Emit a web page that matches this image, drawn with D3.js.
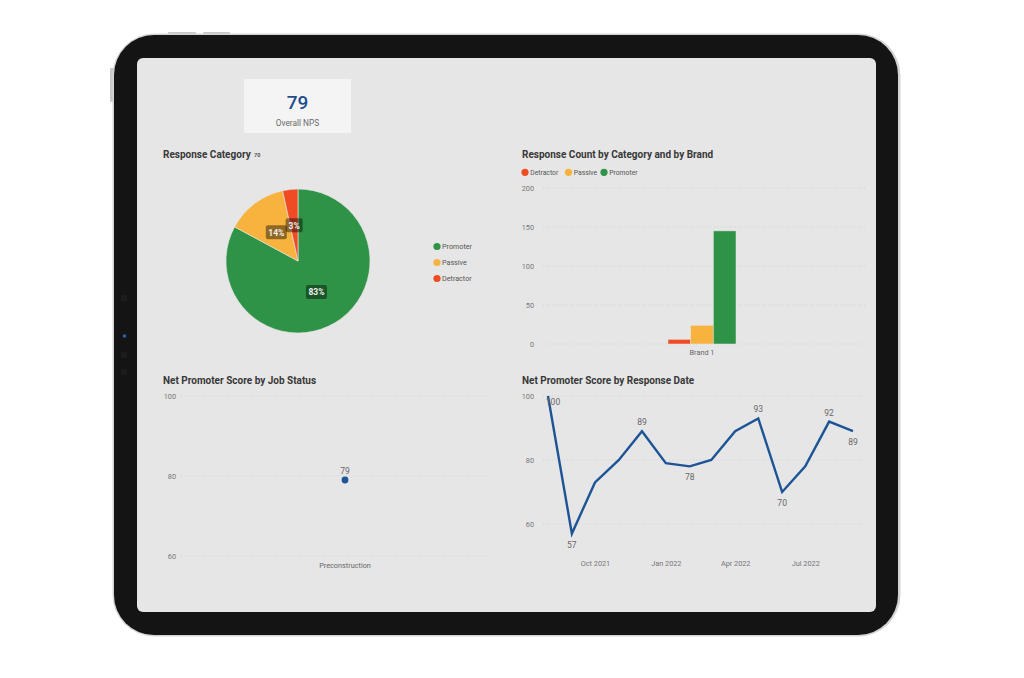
<!DOCTYPE html>
<html>
<head>
<meta charset="utf-8">
<script src="https://cdn.jsdelivr.net/npm/d3@7"></script>
<style>
  html, body { margin: 0; padding: 0; background: #ffffff; }
  svg { display: block; }
  text { font-family: Roboto, "Open Sans", sans-serif; }
</style>
</head>
<body>
<svg id="chart" width="1024" height="678"></svg>
<script>
// ---------------- DATA ----------------
const kpiValue = 79;
const kpiLabel = "Overall NPS";

const pieCategories = ["Promoter", "Passive", "Detractor"];
const barCategories = ["Detractor", "Passive", "Promoter"];
const brands = ["Brand 1"];
const responseCounts = [6, 24, 145];           // Detractor, Passive, Promoter for Brand 1
const barTicks = [0, 50, 100, 150, 200];

const jobStatuses = ["Preconstruction"];
const jobNps = [79];
const jobTicks = [60, 80, 100];

const npsMonths = ["2021-08", "2021-09", "2021-10", "2021-11", "2021-12", "2022-01", "2022-02",
                   "2022-03", "2022-04", "2022-05", "2022-06", "2022-07", "2022-08", "2022-09"];
const npsValues = [100, 57, 73, 80, 89, 79, 78, 80, 89, 93, 70, 78, 92, 89];
const npsLabeledMonths = ["2021-08", "2021-09", "2021-12", "2022-02", "2022-05", "2022-06", "2022-08", "2022-09"];
const npsTicks = ["2021-10", "2022-01", "2022-04", "2022-07"];
const npsYTicks = [60, 80, 100];

const colors = { Promoter: "#2e9346", Passive: "#f8b33e", Detractor: "#ef4c24" };

// ---------------- FRAME ----------------
const svg = d3.select("#chart");

// side buttons
svg.append("rect").attr("x", 168).attr("y", 32).attr("width", 28).attr("height", 3).attr("rx", 1).attr("fill", "#c9c9c9");
svg.append("rect").attr("x", 203).attr("y", 32).attr("width", 27).attr("height", 3).attr("rx", 1).attr("fill", "#c9c9c9");
svg.append("rect").attr("x", 110).attr("y", 68).attr("width", 4).attr("height", 34).attr("rx", 1).attr("fill", "#c9c9c9");

// body
svg.append("rect").attr("x", 112.5).attr("y", 33.5).attr("width", 788).attr("height", 603).attr("rx", 42)
  .attr("fill", "#d4d4d4");
svg.append("rect").attr("x", 114).attr("y", 35).attr("width", 784).attr("height", 600).attr("rx", 40)
  .attr("fill", "#141414");
// sensors
[298, 355, 372].forEach(y => svg.append("rect").attr("x", 121).attr("y", y - 3).attr("width", 6).attr("height", 6).attr("rx", 1).attr("fill", "#1c1c1c"));
svg.append("circle").attr("cx", 124.5).attr("cy", 336).attr("r", 1.8).attr("fill", "#2a5fb5");

// screen
svg.append("rect").attr("x", 137).attr("y", 58).attr("width", 739).attr("height", 554).attr("rx", 6)
  .attr("fill", "#e6e6e6");

const titleStyle = sel => sel.attr("font-size", 10).attr("font-weight", "bold").attr("fill", "#383838");
const tickStyle = sel => sel.attr("font-size", 7.3).attr("fill", "#777");
const gridStyle = sel => sel.attr("stroke", "#d2d2d2").attr("stroke-width", 1).attr("stroke-dasharray", "1 2");

// ---------------- KPI CARD ----------------
svg.append("rect").attr("x", 244).attr("y", 79).attr("width", 107).attr("height", 54).attr("fill", "#f4f4f4");
svg.append("text").attr("x", 297.5).attr("y", 108.5).attr("text-anchor", "middle")
  .attr("font-size", 19).attr("font-weight", 500).attr("fill", "#1f4e8c").text(kpiValue);
svg.append("text").attr("x", 297.5).attr("y", 126).attr("text-anchor", "middle")
  .attr("font-size", 8.3).attr("fill", "#6a6a6a").text(kpiLabel);

// ---------------- PIE ----------------
svg.append("text").attr("x", 163).attr("y", 157.5).call(titleStyle).text("Response Category");
svg.append("text").attr("x", 254).attr("y", 157).attr("font-size", 5.5).attr("font-weight", "bold").attr("fill", "#555").text("70");

const pieData = pieCategories.map(c => ({ cat: c, value: responseCounts[barCategories.indexOf(c)] }));
const total = d3.sum(pieData, d => d.value);
const pie = d3.pie().sort(null).value(d => d.value);
const R = 72;
const arc = d3.arc().innerRadius(0).outerRadius(R);
const labelArc = d3.arc().innerRadius(0).outerRadius(R);
const pg = svg.append("g").attr("transform", "translate(298,261)");
const arcs = pie(pieData);
pg.selectAll("path").data(arcs).join("path")
  .attr("d", arc).attr("fill", d => colors[d.data.cat]).attr("stroke", "#e6e6e6").attr("stroke-width", 0.6);
const pl = pg.selectAll("g.lbl").data(arcs).join("g").attr("class", "lbl")
  .attr("transform", d => `translate(${labelArc.centroid(d)})`);
pl.append("rect").attr("x", d => d.data.value / total < 0.05 ? -8.5 : -10.5).attr("y", -7)
  .attr("width", d => d.data.value / total < 0.05 ? 17 : 21).attr("height", 14).attr("rx", 2)
  .attr("fill", "rgba(0,0,0,0.42)");
pl.append("text").attr("text-anchor", "middle").attr("y", 3.3).attr("font-size", 8.5).attr("font-weight", "bold")
  .attr("fill", "#f0f0f0").text(d => Math.round(d.data.value / total * 100) + "%");

const pieLeg = svg.append("g");
pieCategories.forEach((c, i) => {
  const y = 246.5 + i * 16;
  pieLeg.append("circle").attr("cx", 437).attr("cy", y).attr("r", 3.6).attr("fill", colors[c]);
  pieLeg.append("text").attr("x", 442).attr("y", y + 2.6).attr("font-size", 7.2).attr("fill", "#555").text(c);
});

// ---------------- BAR CHART ----------------
svg.append("text").attr("x", 522).attr("y", 157.5).call(titleStyle).text("Response Count by Category and by Brand");
const barLegX = [525, 568.5, 604];
barCategories.forEach((c, i) => {
  svg.append("circle").attr("cx", barLegX[i]).attr("cy", 172.3).attr("r", 3.6).attr("fill", colors[c]);
  svg.append("text").attr("x", barLegX[i] + 5.2).attr("y", 174.8).attr("font-size", 6.8).attr("fill", "#555").text(c);
});
const by = d3.scaleLinear().domain([0, 200]).range([344, 188]);
const bx0 = d3.scaleBand().domain(brands).range([543, 861]).paddingInner(0).paddingOuter(1.838);
const bx1 = d3.scaleBand().domain(barCategories).range([0, bx0.bandwidth()]);
const bg = svg.append("g");
bg.selectAll("line.grid").data(barTicks).join("line").attr("class", "grid")
  .attr("x1", 543).attr("x2", 866).attr("y1", d => by(d)).attr("y2", d => by(d)).call(gridStyle);
bg.selectAll("text.yt").data(barTicks).join("text").attr("class", "yt")
  .attr("x", 534).attr("y", d => by(d) + 2.7).attr("text-anchor", "end").call(tickStyle).text(d => d);
brands.forEach(b => {
  barCategories.forEach((c, i) => {
    bg.append("rect").attr("x", bx0(b) + bx1(c)).attr("width", bx1.bandwidth())
      .attr("y", by(responseCounts[i])).attr("height", by(0) - by(responseCounts[i]))
      .attr("fill", colors[c]).attr("stroke", "#e6e6e6").attr("stroke-width", 0.5);
  });
  bg.append("text").attr("x", bx0(b) + bx0.bandwidth() / 2).attr("y", 354.5).attr("text-anchor", "middle")
    .call(tickStyle).attr("fill", "#666").text(b);
});

// ---------------- JOB STATUS ----------------
svg.append("text").attr("x", 163).attr("y", 384).call(titleStyle).text("Net Promoter Score by Job Status");
const jy = d3.scaleLinear().domain([60, 100]).range([556, 396]);
const jx = d3.scalePoint().domain(jobStatuses).range([183, 507]).padding(0.5);
const jg = svg.append("g");
jg.selectAll("line.grid").data(jobTicks).join("line").attr("class", "grid")
  .attr("x1", 181).attr("x2", 492).attr("y1", d => jy(d)).attr("y2", d => jy(d)).call(gridStyle);
jg.selectAll("text.yt").data(jobTicks).join("text").attr("class", "yt")
  .attr("x", 176).attr("y", d => jy(d) + 2.7).attr("text-anchor", "end").call(tickStyle).text(d => d);
jobStatuses.forEach((s, i) => {
  jg.append("circle").attr("cx", jx(s)).attr("cy", jy(jobNps[i])).attr("r", 3.4).attr("fill", "#1c5496");
  jg.append("text").attr("x", jx(s)).attr("y", jy(jobNps[i]) - 6).attr("text-anchor", "middle")
    .attr("font-size", 8.5).attr("fill", "#666").text(jobNps[i]);
  jg.append("text").attr("x", jx(s)).attr("y", 567.5).attr("text-anchor", "middle").call(tickStyle).attr("fill", "#666").text(s);
});

// ---------------- LINE CHART ----------------
svg.append("text").attr("x", 522).attr("y", 384).call(titleStyle).text("Net Promoter Score by Response Date");
const parse = d3.timeParse("%Y-%m");
const lineData = npsMonths.map((m, i) => ({ m, date: parse(m), v: npsValues[i] }));
const lx = d3.scaleTime().domain(d3.extent(lineData, d => d.date)).range([548, 853]);
const ly = d3.scaleLinear().domain([60, 100]).range([524, 396]);
const lg = svg.append("g");
lg.selectAll("line.grid").data(npsYTicks).join("line").attr("class", "grid")
  .attr("x1", 543).attr("x2", 862).attr("y1", d => ly(d)).attr("y2", d => ly(d)).call(gridStyle);
lg.selectAll("text.yt").data(npsYTicks).join("text").attr("class", "yt")
  .attr("x", 534).attr("y", d => ly(d) + 2.7).attr("text-anchor", "end").call(tickStyle).text(d => d);
const xAxis = d3.axisBottom(lx).tickValues(npsTicks.map(parse)).tickFormat(d3.timeFormat("%b %Y")).tickSize(0);
const xa = lg.append("g").attr("transform", "translate(0,558)").call(xAxis);
xa.select(".domain").remove();
xa.selectAll("text").attr("font-size", 7.3).attr("fill", "#777").attr("font-family", "Roboto, sans-serif").attr("dy", "0.75em");

lg.append("path").datum(lineData)
  .attr("d", d3.line().x(d => lx(d.date)).y(d => ly(d.v)))
  .attr("fill", "none").attr("stroke", "#1c5496").attr("stroke-width", 2.4).attr("stroke-linejoin", "miter");

lineData.forEach((d, i) => {
  if (!npsLabeledMonths.includes(d.m)) return;
  const prev = i > 0 ? lineData[i - 1].v : -Infinity;
  const next = i < lineData.length - 1 ? lineData[i + 1].v : -Infinity;
  let above = d.v >= prev && d.v >= next;
  let dx = 0;
  let y = above ? ly(d.v) - 6 : ly(d.v) + 14;
  if (above && ly(d.v) - 12 < 396) { y = ly(d.v) + 8.5; dx = 5; }
  lg.append("text").attr("x", lx(d.date) + dx).attr("y", y).attr("text-anchor", "middle")
    .attr("font-size", 8.5).attr("fill", "#666").text(d.v);
});
</script>
</body>
</html>
